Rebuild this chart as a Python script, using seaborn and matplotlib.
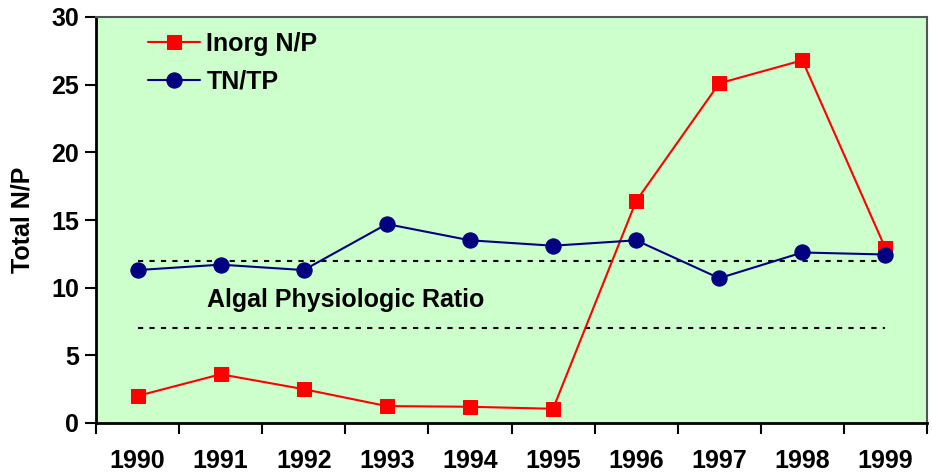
import numpy as np
import pandas as pd
import matplotlib
matplotlib.use('Agg')
import matplotlib.pyplot as plt
import seaborn as sns

# datos
years = ['1990', '1991', '1992', '1993', '1994', '1995', '1996', '1997', '1998', '1999']
inorg_np = [2.0, 3.6, 2.5, 1.25, 1.2, 1.05, 16.4, 25.1, 26.8, 12.9]
tn_tp = [11.3, 11.7, 11.3, 14.7, 13.5, 13.1, 13.5, 10.7, 12.6, 12.45]
ratio_high = [12] * len(years)
ratio_low = [7] * len(years)

sns.set_theme(style="white")
plt.rcParams['font.family'] = ['Liberation Sans', 'DejaVu Sans']
plt.rcParams['font.weight'] = 'bold'
plt.rcParams['text.color'] = 'black'
plt.rcParams['axes.labelcolor'] = 'black'
plt.rcParams['xtick.color'] = 'black'
plt.rcParams['ytick.color'] = 'black'

FS = 18

pos = np.arange(len(years))
df = pd.DataFrame({'pos': pos, 'inorg': inorg_np, 'tntp': tn_tp,
                   'hi': ratio_high, 'lo': ratio_low})

fig = plt.figure(figsize=(9.32, 4.76), dpi=100)
ax = fig.add_axes([96 / 932, 1 - 423 / 476, 831 / 932, 406 / 476])
ax.set_facecolor('#CCFFCC')

# lineas punteadas de la razon fisiologica
for col in ['hi', 'lo']:
    sns.lineplot(data=df, x='pos', y=col, ax=ax, color='black', lw=1.5,
                 linestyle=(0, (2.5, 3)), legend=False)

sns.lineplot(data=df, x='pos', y='inorg', ax=ax, color='#FF0000', lw=1.5,
             marker='s', markersize=10.5, markeredgecolor='#FF0000', label='Inorg N/P')
sns.lineplot(data=df, x='pos', y='tntp', ax=ax, color='#000080', lw=1.5,
             marker='o', markersize=11, markeredgecolor='#000080', label='TN/TP')

ax.text(0.84, 9.1, 'Algal Physiologic Ratio', fontsize=FS, fontweight='bold',
        va='center', ha='left')

ax.set_xlim(-0.5, 9.5)
ax.set_ylim(0, 30)
ax.set_yticks([0, 5, 10, 15, 20, 25, 30])
ax.set_yticklabels(['0', '5', '10', '15', '20', '25', '30'], fontsize=FS, fontweight='bold')
ax.set_xticks(np.arange(-0.5, 10, 1))
ax.set_xticklabels([])
ax.set_xticks(pos, minor=True)
ax.set_xticklabels(years, minor=True, fontsize=FS, fontweight='bold')
ax.tick_params(axis='x', which='major', bottom=True, direction='out', length=8, width=1.5, color='black')
ax.tick_params(axis='x', which='minor', bottom=True, length=0, pad=19)
ax.tick_params(axis='y', left=True, direction='out', length=8, width=1.5, color='black', pad=4)
ax.set_xlabel('')
ax.set_ylabel('Total N/P', fontsize=FS, fontweight='bold', labelpad=12)

for side in ['left', 'bottom']:
    ax.spines[side].set_color('black')
    ax.spines[side].set_linewidth(2)
for side in ['top', 'right']:
    ax.spines[side].set_color('#555555')
    ax.spines[side].set_linewidth(1.5)

leg = ax.legend(loc='upper left', bbox_to_anchor=(0.047, 0.995), frameon=False,
                fontsize=FS, handlelength=2.1, labelspacing=0.55, borderpad=0,
                handletextpad=0.25)
for t in leg.get_texts():
    t.set_fontweight('bold')

fig.savefig('out.png', dpi=100, facecolor='white')
